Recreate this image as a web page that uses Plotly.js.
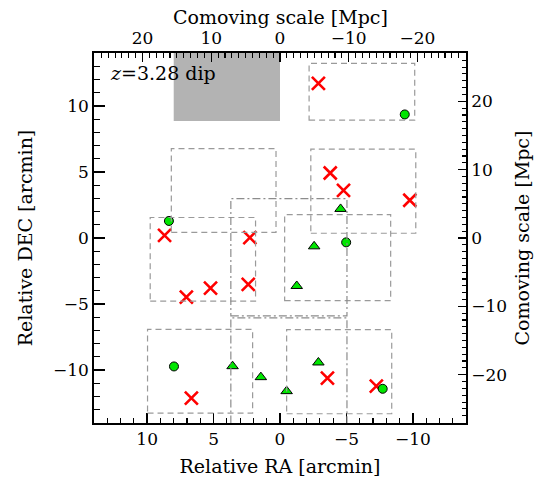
<!DOCTYPE html>
<html>
<head>
<meta charset="utf-8">
<script src="https://cdn.plot.ly/plotly-3.0.1.min.js"></script>
<style>html,body{margin:0;padding:0;background:#fff;} #chart{width:551px;height:485px;}</style>
</head>
<body>
<div id="chart"></div>
<script>
// Red crosses (RA, DEC in arcmin)
const crossRA  = [-2.89, 8.69, 2.27, 2.39, 5.23, 7.05, -3.78, -4.78, -9.77, 6.67, -3.57, -7.25];
const crossDEC = [11.7, 0.2, 0.03, -3.51, -3.79, -4.47, 4.92, 3.61, 2.86, -12.12, -10.6, -11.21];
// Green circles
const circRA  = [-9.39, 8.36, -4.98, 7.98, -7.73];
const circDEC = [9.35, 1.29, -0.33, -9.72, -11.41];
// Green triangles
const triRA  = [-4.56, -2.57, -1.26, 3.57, 1.44, -0.5, -2.89];
const triDEC = [2.2, -0.63, -3.63, -9.7, -10.53, -11.59, -9.42];
// Dashed field boxes
const boxRA0  = [-2.19, 8.18, 9.77, -2.32, -0.35, 9.97, -0.5];
const boxRA1  = [-10.14, 0.3, 1.84, -10.22, -8.33, 2.06, -8.41];
const boxDEC0 = [8.92, 0.43, -4.77, 0.36, -4.74, -13.26, -13.3];
const boxDEC1 = [13.21, 6.77, 1.55, 6.72, 1.77, -6.92, -6.94];
// Dash-dot field boxes
const ddRA0  = [3.7, 3.7];
const ddRA1  = [-5.04, -5.04];
const ddDEC0 = [-5.9, -15];
const ddDEC1 = [2.98, -6.05];
// Shaded dip region
const dipRA  = [8.0, 0.0];
const dipDEC = [8.86, 14.5];
// Axis ticks
const raTicks = [10, 5, 0, -5, -10];
const decTicks = [-10, -5, 0, 5, 10];
const mpcTicks = [-20, -10, 0, 10, 20];
const mpcPerArcmin = 1.933;
const lim = 14;

const font = 'DejaVu Serif, serif';
const shapes = [];
shapes.push({type:'rect', xref:'x', yref:'y', x0:dipRA[0], x1:dipRA[1], y0:dipDEC[0], y1:dipDEC[1],
  fillcolor:'#b3b3b3', line:{width:0}, layer:'below'});
for (let i = 0; i < boxRA0.length; i++) {
  shapes.push({type:'rect', xref:'x', yref:'y', x0:boxRA0[i], x1:boxRA1[i], y0:boxDEC0[i], y1:boxDEC1[i],
    line:{color:'#9a9a9a', width:1.2, dash:'6px,4px'}, fillcolor:'rgba(0,0,0,0)'});
}
for (let i = 0; i < ddRA0.length; i++) {
  shapes.push({type:'rect', xref:'x', yref:'y', x0:ddRA0[i], x1:ddRA1[i], y0:ddDEC0[i], y1:ddDEC1[i],
    line:{color:'#8c8c8c', width:1.2, dash:'8px,3px,2px,3px'}, fillcolor:'rgba(0,0,0,0)'});
}

const traces = [
  {x: crossRA, y: crossDEC, type:'scatter', mode:'markers', xaxis:'x', yaxis:'y',
   marker:{symbol:'x-thin-open', size:13, color:'#ff0000', line:{color:'#ff0000', width:2.6}}},
  {x: circRA, y: circDEC, type:'scatter', mode:'markers',
   marker:{symbol:'circle', size:9, color:'#00e600', line:{color:'#000', width:1}}},
  {x: triRA, y: triDEC, type:'scatter', mode:'markers',
   marker:{symbol:'triangle-up', size:10, color:'#00e600', line:{color:'#000', width:1}}},
  {x:[0], y:[0], xaxis:'x2', yaxis:'y2', type:'scatter', mode:'markers', marker:{opacity:0}, hoverinfo:'skip'}
];

const tickCommon = {
  ticks:'inside', showgrid:false, zeroline:false, showline:true, linecolor:'#000', linewidth:1.8,
  tickcolor:'#000', tickwidth:1.3, tickfont:{family:font, size:17, color:'#000'}
};

const layout = {
  width:551, height:485,
  margin:{l:94, r:85, t:53, b:62},
  paper_bgcolor:'#fff', plot_bgcolor:'#fff',
  showlegend:false,
  font:{family:font, color:'#000'},
  xaxis: Object.assign({}, tickCommon, {
    range:[lim, -lim], tickvals: raTicks, ticklen:10,
    minor:{dtick:1, ticklen:5, tickcolor:'#000', tickwidth:1.1, ticks:'inside'},
    title:{text:'Relative RA [arcmin]', font:{family:font, size:19}, standoff:11}
  }),
  yaxis: Object.assign({}, tickCommon, {
    range:[-lim, lim], tickvals: decTicks, ticklen:11,
    minor:{dtick:1, ticklen:6, tickcolor:'#000', tickwidth:1.1, ticks:'inside'},
    title:{text:'Relative DEC [arcmin]', font:{family:font, size:19}, standoff:15}
  }),
  xaxis2: Object.assign({}, tickCommon, {
    overlaying:'x', side:'top', anchor:'y',
    range:[lim*mpcPerArcmin, -lim*mpcPerArcmin], tickvals: mpcTicks, ticklen:9,
    minor:{dtick:1, ticklen:5, tickcolor:'#000', tickwidth:1.1, ticks:'inside'}
  }),
  yaxis2: Object.assign({}, tickCommon, {
    overlaying:'y', side:'right', anchor:'x',
    range:[-lim*mpcPerArcmin, lim*mpcPerArcmin], tickvals: mpcTicks, ticklen:8,
    minor:{dtick:1, ticklen:4, tickcolor:'#000', tickwidth:1.1, ticks:'inside'},
    title:{text:'Comoving scale [Mpc]', font:{family:font, size:19}, standoff:10}
  }),
  shapes: shapes,
  annotations:[{
    xref:'x', yref:'y', x:12.95, y:12.5, xanchor:'left', yanchor:'middle', showarrow:false,
    text:'<i>z</i>=3.28 dip', font:{family:font, size:19, color:'#000'}
  }, {
    xref:'paper', yref:'paper', x:0.5, y:1.097, xanchor:'center', yanchor:'middle', showarrow:false,
    text:'Comoving scale [Mpc]', font:{family:font, size:19, color:'#000'}
  }]
};

Plotly.newPlot('chart', traces, layout, {displayModeBar:false, staticPlot:true});
</script>
</body>
</html>
